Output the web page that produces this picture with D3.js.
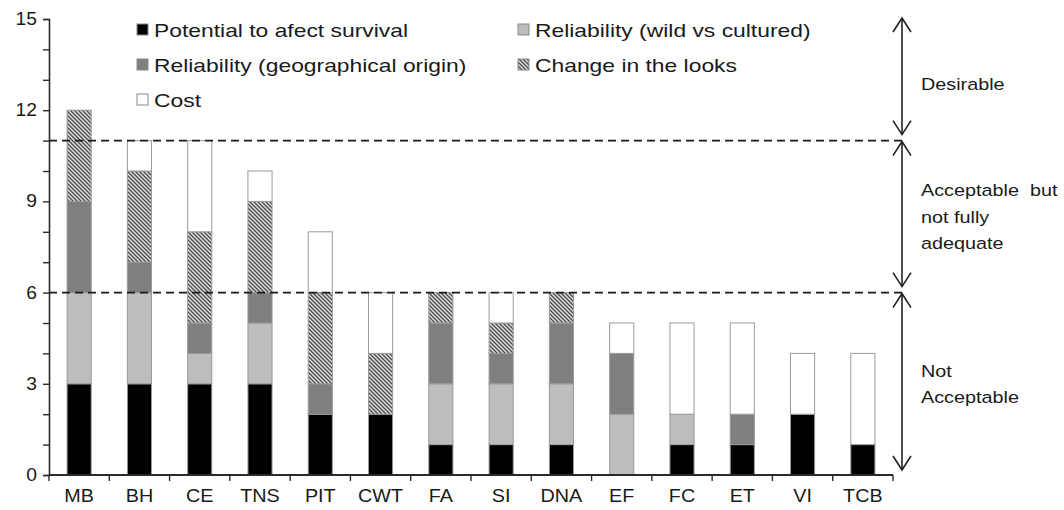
<!DOCTYPE html>
<html><head><meta charset="utf-8">
<script src="https://cdn.jsdelivr.net/npm/d3@7"></script>
<style>body{margin:0;background:#fff}svg{display:block}text{font-family:"Liberation Sans",Arial,sans-serif;fill:#1a1a1a}</style>
</head><body><svg id="c" width="1064" height="510"></svg>
<script>
const categories = ["MB","BH","CE","TNS","PIT","CWT","FA","SI","DNA","EF","FC","ET","VI","TCB"];
const potential   = [3,3,3,3,2,2,1,1,1,0,1,1,2,1];
const wildCult    = [3,3,1,2,0,0,2,2,2,2,1,0,0,0];
const geoOrigin   = [3,1,1,1,1,0,2,1,2,2,0,1,0,0];
const looks       = [3,3,3,3,3,2,1,1,1,0,0,0,0,0];
const cost        = [0,1,3,1,2,2,0,1,0,1,3,3,2,3];
const seriesNames = ["Potential to afect survival","Reliability (wild vs cultured)","Reliability (geographical origin)","Change in the looks","Cost"];
const yTicks = [0,3,6,9,12,15];
const thresholds = [6,11];
const zones = [{from:11,to:15,lines:["Desirable"]},{from:6,to:11,lines:["Acceptable  but","not fully","adequate"]},{from:0,to:6,lines:["Not","Acceptable"]}];

const keys = ["p","w","g","l","c"];
const data = categories.map((c,i)=>({cat:c,p:potential[i],w:wildCult[i],g:geoOrigin[i],l:looks[i],c:cost[i]}));
const stacked = d3.stack().keys(keys)(data);

const svg = d3.select("#c");
const defs = svg.append("defs");
const pat = defs.append("pattern").attr("id","hatch").attr("patternUnits","userSpaceOnUse").attr("width",4).attr("height",4);
pat.append("rect").attr("width",4).attr("height",4).attr("fill","#dcdcdc");
pat.append("path").attr("d","M-1,-1 L5,5 M3,-1 L5,1 M-1,3 L1,5").attr("stroke","#4a4a4a").attr("stroke-width",1.3);

const fills = {p:"#000000",w:"#bdbdbd",g:"#7f7f7f",l:"url(#hatch)",c:"#ffffff"};

const x0 = 49, x1 = 893;
const x = d3.scaleBand().domain(categories).range([x0,x1]).paddingInner(0.6).paddingOuter(0.3);
const y = d3.scaleLinear().domain([0,15]).range([475,19]);

// stretched text helper
function stext(g, tx, ty, str, size, sx, anchor){
  return g.append("text").attr("transform",`translate(${tx},${ty}) scale(${sx},1)`)
    .attr("font-size",size).attr("text-anchor",anchor||"start").text(str);
}

// bars
svg.append("g").selectAll("g").data(stacked).join("g")
  .attr("fill",d=>fills[d.key])
  .selectAll("rect").data(d=>d.filter(s=>s[1]>s[0])).join("rect")
  .attr("x",d=>x(d.data.cat)).attr("width",x.bandwidth())
  .attr("y",d=>y(d[1])).attr("height",d=>y(d[0])-y(d[1]))
  .attr("stroke","#9a9a9a").attr("stroke-width",1);

// axes
const yAxis = d3.axisLeft(y).tickValues(d3.range(0,16,1)).tickSize(6).tickFormat("");
const gy = svg.append("g").attr("transform",`translate(${x0},0)`).call(yAxis);
gy.select(".domain").attr("stroke","#2a2a2a").attr("stroke-width",1.6);
gy.selectAll(".tick line").attr("stroke","#2a2a2a").attr("stroke-width",1.4);
const gyl = svg.append("g");
yTicks.forEach(t=> stext(gyl, 37, y(t)+6, t, 17.5, 1.1, "end"));

const bounds = d3.range(categories.length+1).map(i=>x0 + i*(x1-x0)/categories.length);
const gx = svg.append("g").attr("transform",`translate(0,${y(0)})`);
gx.append("line").attr("x1",x0).attr("x2",x1).attr("stroke","#2a2a2a").attr("stroke-width",1.8);
gx.selectAll("line.t").data(bounds).join("line").attr("class","t").attr("x1",d=>d).attr("x2",d=>d).attr("y1",0).attr("y2",6).attr("stroke","#2a2a2a").attr("stroke-width",1.4);
categories.forEach(c=> stext(gx, x(c)+x.bandwidth()/2, 27, c, 17.5, 1.13, "middle"));

// threshold lines
svg.append("g").selectAll("line").data(thresholds).join("line")
  .attr("x1",x0).attr("x2",906).attr("y1",d=>y(d)).attr("y2",d=>y(d))
  .attr("stroke","#1a1a1a").attr("stroke-width",1.8).attr("stroke-dasharray","8,5");

// zone arrows
const ax = 902;
const za = svg.append("g").attr("stroke","#222").attr("stroke-width",1.6).attr("fill","none");
const zt = svg.append("g");
zones.forEach(z=>{
  const top = y(z.to) + (z.to===15?-1:1), bot = y(z.from) - (z.from===0?5:6);
  za.append("line").attr("x1",ax).attr("x2",ax).attr("y1",top).attr("y2",bot);
  za.append("path").attr("d",`M${ax-9},${top+14} L${ax},${top} L${ax+9},${top+14}`);
  za.append("path").attr("d",`M${ax-9},${bot-14} L${ax},${bot} L${ax+9},${bot-14}`);
  const mid = (y(z.to)+y(z.from))/2 + (z.to===15?4:0);
  const n = z.lines.length, lh = 26.5;
  z.lines.forEach((t,i)=>{
    stext(zt, 921, mid + (i-(n-1)/2)*lh + 6, t, 16.5, 1.2, "start").style("white-space","pre");
  });
});

// legend
const legendPos = [[137,30],[518,30],[137,65],[518,65],[137,100]];
const lg = svg.append("g");
keys.forEach((k,i)=>{
  const [lx,ly] = legendPos[i];
  lg.append("rect").attr("x",lx).attr("y",ly-6).attr("width",11).attr("height",11).attr("fill",fills[k]).attr("stroke","#888").attr("stroke-width",1);
  stext(lg, lx+17, ly+7, seriesNames[i], 18, 1.27, "start");
});
</script></body></html>
